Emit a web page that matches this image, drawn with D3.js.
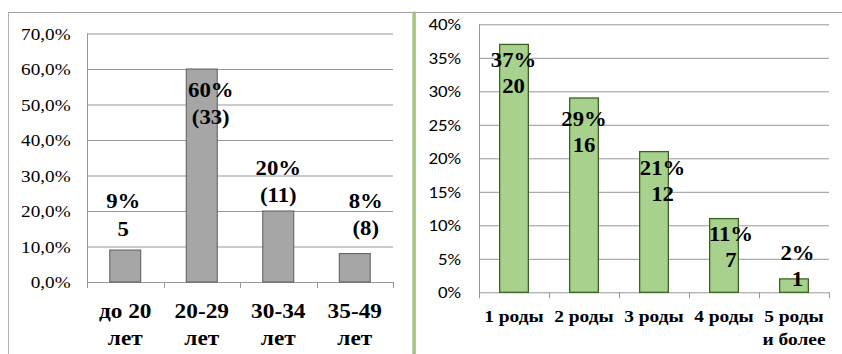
<!DOCTYPE html>
<html>
<head>
<meta charset="utf-8">
<script src="https://cdn.jsdelivr.net/npm/d3@7"></script>
<style>
  html, body { margin: 0; padding: 0; background: #fff; }
  svg { display: block; }
</style>
</head>
<body>
<svg id="chart" width="842" height="354"></svg>
<script>
// Age groups (left panel)
const ageCategories = [["до 20", "лет"], ["20-29", "лет"], ["30-34", "лет"], ["35-49", "лет"]];
const agePercent = [9, 60, 20, 8];
const ageCountLabels = ["5", "(33)", "(11)", "(8)"];
const ageTicks = [0, 10, 20, 30, 40, 50, 60, 70];

// Number of births (right panel)
const birthCategories = [["1 роды"], ["2 роды"], ["3 роды"], ["4 роды"], ["5 роды", "и более"]];
const birthPercent = [37, 29, 21, 11, 2];
const birthCounts = [20, 16, 12, 7, 1];
const birthTicks = [0, 5, 10, 15, 20, 25, 30, 35, 40];

const svg = d3.select("#chart");
const serif = "'Liberation Serif', 'Times New Roman', serif";
const sans = "Carlito, Calibri, 'Liberation Sans', sans-serif";
const gridColor = "#979797";
const stretch = 1.11;   // text is set slightly wide

const ruFormat = d3.formatLocale({ decimal: ",", thousands: " ", grouping: [3], currency: ["", ""] }).format(".1f");

// text helper: places a (possibly multi-line) label with its own horizontal stretch
function wideText(parent, x, y, lines, lineH, font) {
  const t = parent.append("text")
    .attr("transform", `translate(${x},${y}) scale(${stretch},1)`)
    .attr("text-anchor", font.anchor || "middle")
    .attr("font-family", font.family).attr("font-weight", font.weight || "normal")
    .attr("font-size", font.size).attr("fill", "#000");
  lines.forEach((ln, k) => t.append("tspan").attr("x", 0).attr("y", k * lineH).text(ln));
  return t;
}

// Panel frames and the green divider between them
svg.append("line").attr("x1", 8).attr("x2", 842).attr("y1", 12.5).attr("y2", 12.5)
  .attr("stroke", "#a3a3a3").attr("stroke-width", 1);
svg.append("line").attr("x1", 8.5).attr("x2", 8.5).attr("y1", 12).attr("y2", 354)
  .attr("stroke", "#b0b0b0").attr("stroke-width", 1);
svg.append("rect").attr("x", 412.8).attr("y", 12).attr("width", 2.6).attr("height", 342)
  .attr("fill", "#9ccc6e").attr("stroke", "#a8a8a8").attr("stroke-width", 0.6);

function panel(opts) {
  const g = svg.append("g");
  const x = d3.scaleBand().domain(d3.range(opts.categories.length)).range([opts.left, opts.right]);
  const y = d3.scaleLinear().domain(opts.domain).range([opts.bottom, opts.top]);

  // gridlines
  const axis = d3.axisLeft(y).tickValues(opts.ticks).tickSize(-(opts.right - opts.left)).tickFormat("");
  const ga = g.append("g").attr("transform", `translate(${opts.left},0)`).call(axis);
  ga.select(".domain").remove();
  ga.selectAll(".tick line").attr("stroke", gridColor).attr("stroke-width", 1);

  // value axis labels
  opts.ticks.forEach(v => {
    wideText(g, opts.left - opts.tickPad, y(v), [opts.tickFormat(v)], 0,
      { family: opts.tickFont, size: opts.tickSize, anchor: "end" }).attr("dy", "0.35em")
      .select("tspan").attr("dy", "0.35em");
  });

  // vertical value axis line and category boundary ticks
  g.append("line").attr("x1", opts.left + 0.5).attr("x2", opts.left + 0.5)
    .attr("y1", y(opts.domain[1])).attr("y2", opts.bottom + 6)
    .attr("stroke", gridColor);
  const bounds = opts.categories.map((d, i) => x(i)).concat([opts.right]);
  g.selectAll(".bt").data(bounds.slice(1)).join("line")
    .attr("x1", d => Math.round(d) + 0.5).attr("x2", d => Math.round(d) + 0.5)
    .attr("y1", opts.bottom).attr("y2", opts.bottom + 6).attr("stroke", gridColor);

  // bars
  const bw = x.bandwidth() * opts.barFrac;
  g.selectAll(".bar").data(opts.values).join("rect")
    .attr("x", (d, i) => x(i) + (x.bandwidth() - bw) / 2)
    .attr("y", d => y(d))
    .attr("width", bw)
    .attr("height", d => y(0) - y(d))
    .attr("fill", opts.fill).attr("stroke", opts.stroke).attr("stroke-width", opts.strokeW);

  // category labels (wrapped)
  opts.categories.forEach((lines, i) => {
    wideText(g, x(i) + x.bandwidth() / 2, opts.catBaseline, lines, opts.catLine,
      { family: serif, weight: "bold", size: opts.catSize });
  });

  // value labels: percent on the first line, count on the second
  opts.values.forEach((v, i) => {
    const cx = x(i) + x.bandwidth() / 2 + opts.labelShift[i][0];
    const by = y(v) + opts.labelShift[i][1];
    wideText(g, cx, by, [d3.format("d")(v) + "%", opts.countText[i]], opts.labelLine,
      { family: serif, weight: "bold", size: opts.labelSize });
  });
}

panel({
  categories: ageCategories, values: agePercent, countText: ageCountLabels,
  ticks: ageTicks, domain: [0, 70],
  left: 87, right: 393, top: 33.5, bottom: 282,
  tickPad: 16.3, tickFormat: d => ruFormat(d) + "%", tickFont: serif, tickSize: 17.3,
  barFrac: 0.405, fill: "#a6a6a6", stroke: "#5a5a5a", strokeW: 1,
  catSize: 21, catBaseline: 318.3, catLine: 26.7,
  labelSize: 20.5, labelLine: 27.5,
  labelShift: [[-2, -42], [9, 28], [0, -36.5], [11, -45.6]]
});

panel({
  categories: birthCategories, values: birthPercent, countText: birthCounts.map(String),
  ticks: birthTicks, domain: [0, 40],
  left: 479, right: 829, top: 24.3, bottom: 292.3,
  tickPad: 18, tickFormat: d => d + "%", tickFont: sans, tickSize: 17,
  barFrac: 0.41, fill: "#a9d18e", stroke: "#3b6420", strokeW: 1.3,
  catSize: 17.5, catBaseline: 322, catLine: 23,
  labelSize: 20.5, labelLine: 26,
  labelShift: [[-0.5, 22.6], [0, 28], [8.5, 23.4], [7, 22.4], [3.5, -18.9]]
});
</script>
</body>
</html>
